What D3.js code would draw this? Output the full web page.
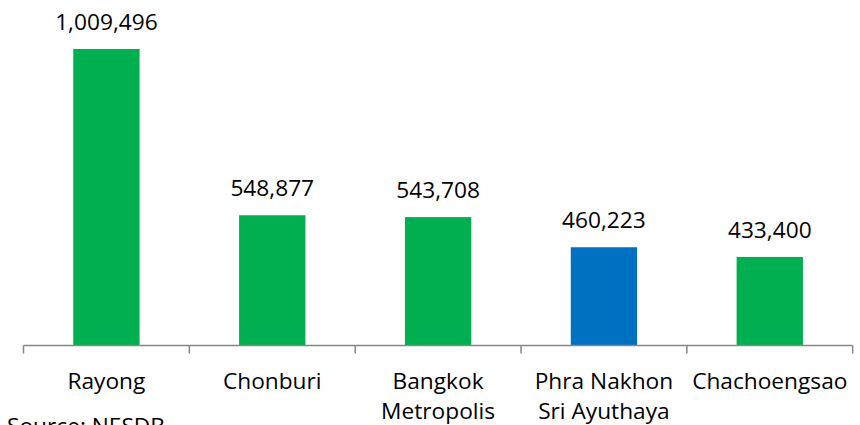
<!DOCTYPE html>
<html><head><meta charset="utf-8">
<script src="https://cdn.jsdelivr.net/npm/d3@7"></script>
<style>body{margin:0;background:#fff}svg{display:block}</style>
</head><body><svg id="c" width="860" height="425"></svg>
<script>
const categories = [["Rayong"],["Chonburi"],["Bangkok","Metropolis"],["Phra Nakhon","Sri Ayuthaya"],["Chachoengsao"]];
const values = [1009496, 548877, 543708, 460223, 433400];
const highlight = [false, false, false, true, false];
const source = "Source: NESDB";

const svg = d3.select("#c");
const font = "'Open Sans', sans-serif";
const fs = 22.7;
const left = 23.5, right = 852.7, base = 345.5;
const x = d3.scaleBand().domain(d3.range(values.length)).range([left, right]).paddingInner(0.6).paddingOuter(0.3);
const xb = d3.scaleBand().domain(d3.range(values.length)).range([left, right]).padding(0);
const y = d3.scaleLinear().domain([188000, 1009496]).range([base, 49]);

svg.selectAll("rect.bar").data(values).join("rect")
  .attr("x", (d,i)=>x(i)).attr("width", x.bandwidth())
  .attr("y", d=>y(d)).attr("height", d=>base - y(d))
  .attr("fill", (d,i)=>highlight[i] ? "#0070C0" : "#00B050");

svg.selectAll("text.val").data(values).join("text")
  .attr("x", (d,i)=>x(i)+x.bandwidth()/2).attr("y", d=>y(d)-19)
  .attr("text-anchor","middle").attr("font-family",font).attr("font-size",fs).attr("fill","#000")
  .text(d=>d3.format(",")(d));

// axis
const ax = svg.append("g");
ax.append("line").attr("x1",left).attr("x2",right).attr("y1",base).attr("y2",base).attr("stroke","#868686").attr("stroke-width",1.5);
const ticks = d3.range(values.length+1).map(i => i<values.length ? xb(i) : right);
ax.selectAll("line.t").data(ticks).join("line")
  .attr("x1",d=>d).attr("x2",d=>d).attr("y1",base).attr("y2",base+8).attr("stroke","#868686").attr("stroke-width",1.5);

const lab = svg.selectAll("text.cat").data(categories).join("text")
  .attr("text-anchor","middle").attr("font-family",font).attr("font-size",fs).attr("fill","#000");
lab.each(function(d,i){
  const t = d3.select(this);
  d.forEach((s,j)=>{
    t.append("tspan").attr("x", xb(i)+xb.bandwidth()/2).attr("y", 389 + j*30).text(s);
  });
});

svg.append("text").attr("x",7).attr("y",434).attr("font-family",font).attr("font-size",fs).attr("fill","#000").text(source);
</script></body></html>
